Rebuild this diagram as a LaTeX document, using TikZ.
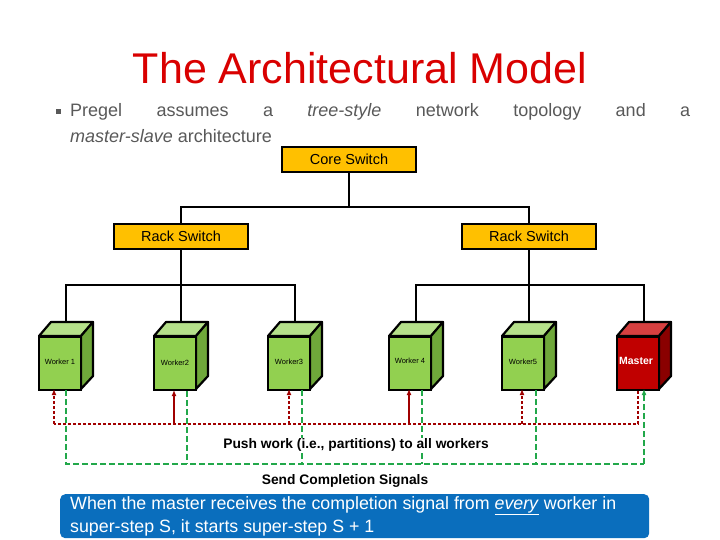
\documentclass[tikz,border=0pt]{standalone}
\usepackage{fontspec}
\setmainfont{Liberation Sans}
\begin{document}
\begin{tikzpicture}[x=1pt,y=-1pt,
  sw/.style={draw=black,line width=2.2pt,fill=swy,minimum width=134pt,minimum height=25pt,inner sep=0pt,font=\fontsize{14.5}{14}\selectfont},
  wire/.style={line width=2.2pt},
  red/.style={draw=pr,line width=1.6pt,dash pattern=on 3pt off 2pt},
  redsolid/.style={draw=pr,line width=1.6pt},
  grn/.style={draw=pg,line width=2.4pt,dash pattern=on 6pt off 3pt},
  tip/.style={-{Latex[length=6pt,width=5pt]}},
  lbl/.style={font=\bfseries\fontsize{13.8}{14}\selectfont}]
\usetikzlibrary{arrows.meta}
\definecolor{swy}{HTML}{FFC000}
\definecolor{gf}{HTML}{92D050}
\definecolor{gt}{HTML}{B5E08A}
\definecolor{gs}{HTML}{6FA83A}
\definecolor{rf}{HTML}{C00000}
\definecolor{rt}{HTML}{D64040}
\definecolor{rs}{HTML}{8A0000}
\definecolor{pr}{HTML}{A00000}
\definecolor{pg}{HTML}{22A84A}
\definecolor{tg}{HTML}{595959}
\definecolor{bb}{HTML}{0A6EBD}
\useasboundingbox (0,0) rectangle (720,540);
\fill[white] (0,0) rectangle (720,540);
\node[text=red!85!black,font=\fontsize{43}{43}\selectfont] (title) at (360,68) {The Architectural Model};
\node[fill=tg,minimum size=5pt,inner sep=0pt] (bul) at (58,112) {};
\node[text=tg,font=\fontsize{18}{18}\selectfont,anchor=west,inner sep=0pt] (l1) at (70,112) {\makebox[620pt][s]{Pregel assumes a \textit{tree-style} network topology and a}};
\node[text=tg,font=\fontsize{18}{18}\selectfont,anchor=west,inner sep=0pt] (l2) at (70,136) {\textit{master-slave} architecture};
\node[sw] (core) at (349,159.5) {Core Switch};
\node[sw] (r1) at (181,236.5) {Rack Switch};
\node[sw] (r2) at (529,236.5) {Rack Switch};
\coordinate (cb) at (349,207);
\draw[wire] (core.south) -- (cb);
\draw[wire] (r1.north) -- (181,207) -- (529,207) -- (r2.north);
\draw[wire] (r1.south) -- (181,285);
\draw[wire] (r2.south) -- (529,285);
\draw[wire] (66,322) -- (66,285) -- (295,285) -- (295,322);
\draw[wire] (416,322) -- (416,285) -- (644,285) -- (644,322);
\draw[wire] (181,285) -- (181,322);
\draw[wire] (529,285) -- (529,322);
\foreach \n/\cx/\f/\t/\s in {w1/60/gf/gt/gs, w2/175/gf/gt/gs, w3/289/gf/gt/gs, w4/410/gf/gt/gs, w5/523/gf/gt/gs, m/638/rf/rt/rs}{
  \draw[line width=2.2pt,fill=\t,line join=round] (\cx-21,336) -- (\cx-9,322) -- (\cx+33,322) -- (\cx+21,336) -- cycle;
  \draw[line width=2.2pt,fill=\s,line join=round] (\cx+21,336) -- (\cx+33,322) -- (\cx+33,376) -- (\cx+21,389) -- cycle;
  \node[draw,line width=2.2pt,fill=\f,minimum width=42pt,minimum height=53pt,inner sep=0pt,anchor=north] (\n) at (\cx,336) {};
}
\node[font=\fontsize{7.5}{7.5}\selectfont] (t1) at (60,362) {Worker 1};
\node[font=\fontsize{7.5}{7.5}\selectfont] (t2) at (175,363) {Worker2};
\node[font=\fontsize{7.5}{7.5}\selectfont] (t3) at (289,362) {Worker3};
\node[font=\fontsize{7.5}{7.5}\selectfont] (t4) at (410,361) {Worker 4};
\node[font=\fontsize{7.5}{7.5}\selectfont] (t5) at (523,362) {Worker5};
\node[font=\bfseries\fontsize{10.5}{10}\selectfont,text=white] (tm) at (636,361) {Master};
\coordinate (rm) at (638,424);
\draw[red] (m.south -| rm) -- (rm) -- (54,424);
\draw[red,tip] (54,424) -- (54,389);
\draw[redsolid,tip] (174,424) -- (174,390);
\draw[red,tip] (289,424) -- (289,389);
\draw[redsolid,tip] (409,424) -- (409,389);
\draw[red,tip] (522,424) -- (522,389);
\draw[grn] (66,390) -- (66,464) -- (644,464);
\draw[grn] (187,391) -- (187,464);
\draw[grn] (302,390) -- (302,464);
\draw[grn] (422,390) -- (422,464);
\draw[grn] (536,390) -- (536,464);
\draw[grn,tip] (644,464) -- (644,389);
\node[lbl,fill=white,inner sep=1pt] (push) at (356,445) {Push work (i.e., partitions) to all workers};
\node[lbl] (send) at (345,481) {Send Completion Signals};
\node[fill=bb,rounded corners=5pt,minimum width=589pt,minimum height=44pt,anchor=north west,inner sep=0pt] (blue) at (60,494) {};
\node[text=white,anchor=north west,font=\fontsize{17.8}{23}\selectfont,align=left,inner sep=0pt] (bt) at (70,496) {When the master receives the completion signal from \underline{\textit{every}} worker in\\super-step S, it starts super-step S + 1};
\end{tikzpicture}
\end{document}
